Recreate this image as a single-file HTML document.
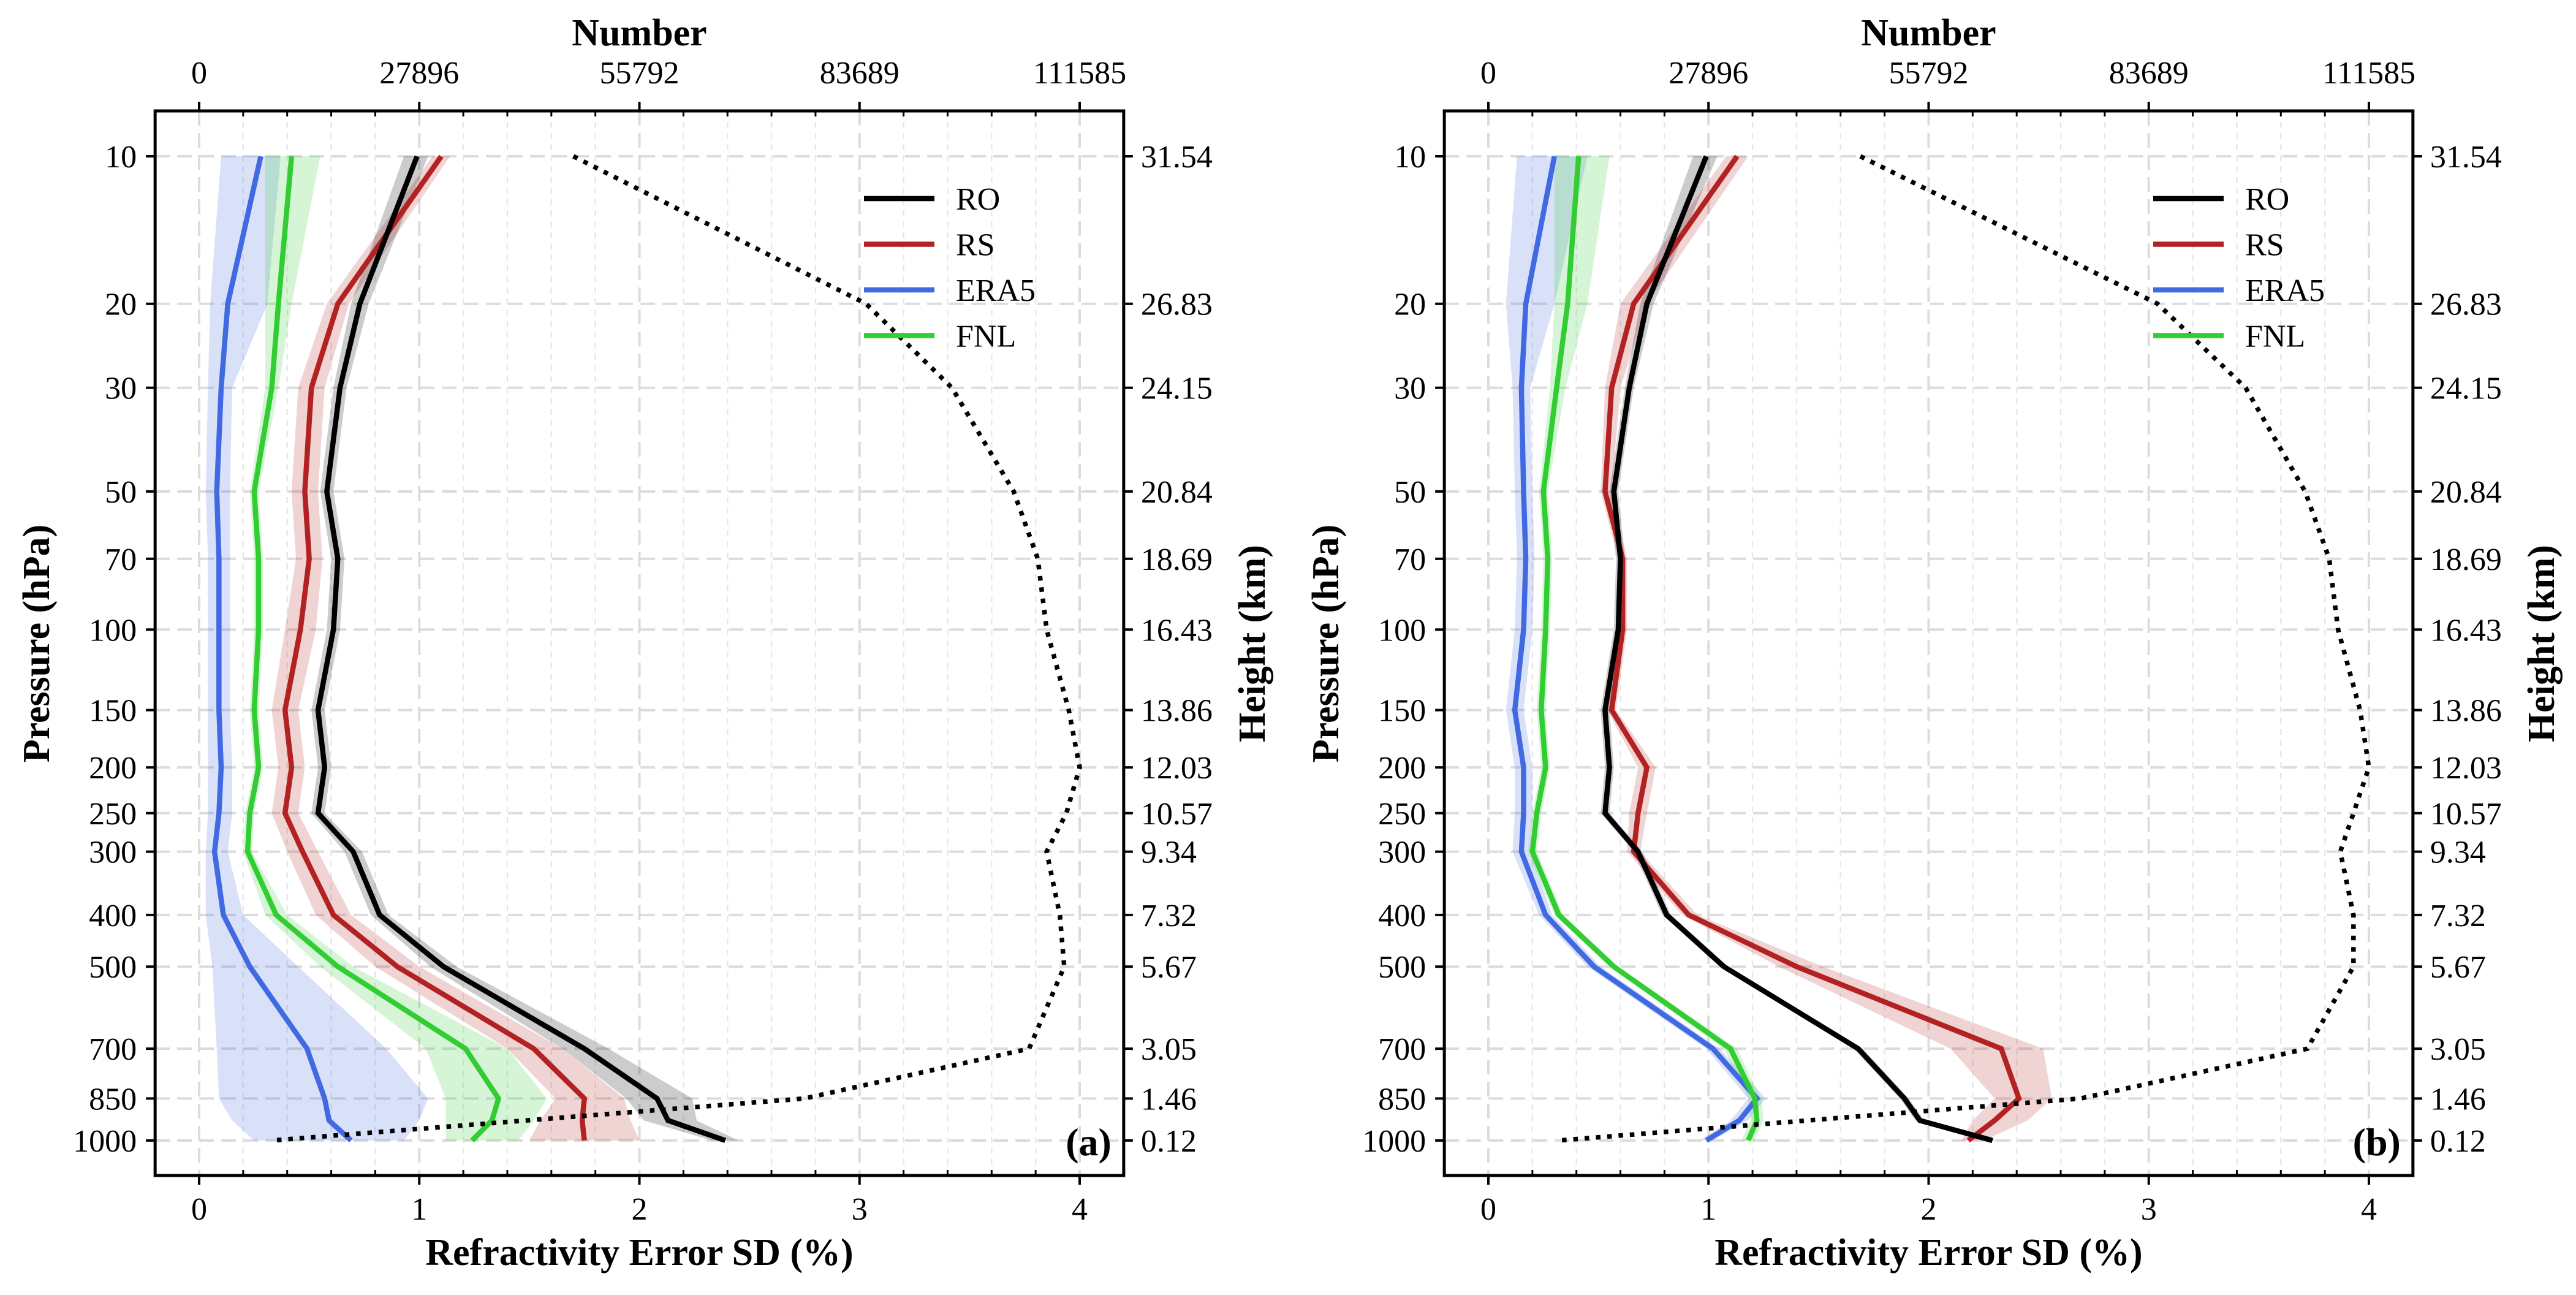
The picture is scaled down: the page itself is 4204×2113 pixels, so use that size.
<!DOCTYPE html>
<html><head><meta charset="utf-8"><style>
html,body{margin:0;padding:0;background:#fff;}
svg{display:block;font-family:"Liberation Serif",serif;}
</style></head><body>
<svg id="chart" width="4204" height="2113" viewBox="0 0 4204 2113" xmlns="http://www.w3.org/2000/svg"></svg>
<script>
const levels=[10,20,30,50,70,100,150,200,250,300,400,500,700,850,925,1000];
const heights=[31.54,26.83,24.15,20.84,18.69,16.43,13.86,12.03,10.57,9.34,7.32,5.67,3.05,1.46,0.76,0.12];
const tickLevels=[10,20,30,50,70,100,150,200,250,300,400,500,700,850,1000];
const tickHeights=["31.54","26.83","24.15","20.84","18.69","16.43","13.86","12.03","10.57","9.34","7.32","5.67","3.05","1.46","0.12"];
const xTicks=[0,1,2,3,4];
const topTickLabels=["0","27896","55792","83689","111585"];
const countMax=111585;

// Panel (a)
const aRO=[0.99,0.73,0.64,0.58,0.63,0.61,0.54,0.57,0.54,0.70,0.82,1.11,1.75,2.08,2.13,2.39];
const aROlo=[0.93,0.69,0.61,0.55,0.60,0.58,0.51,0.54,0.51,0.66,0.78,1.05,1.65,1.94,2.02,2.33];
const aROhi=[1.04,0.77,0.67,0.61,0.66,0.64,0.57,0.60,0.57,0.74,0.86,1.17,1.86,2.24,2.26,2.45];
const aRS=[1.10,0.63,0.51,0.48,0.50,0.46,0.39,0.42,0.39,0.47,0.61,0.90,1.52,1.75,1.74,1.75];
const aRSlo=[1.06,0.58,0.45,0.42,0.44,0.39,0.33,0.36,0.33,0.40,0.53,0.80,1.40,1.62,1.55,1.50];
const aRShi=[1.14,0.68,0.57,0.54,0.56,0.53,0.45,0.48,0.45,0.54,0.69,1.00,1.65,1.93,1.96,2.00];
const aERA=[0.28,0.13,0.10,0.08,0.09,0.09,0.09,0.10,0.09,0.07,0.11,0.23,0.49,0.57,0.59,0.69];
const aERAlo=[0.10,0.05,0.04,0.03,0.04,0.04,0.04,0.04,0.04,0.03,0.03,0.06,0.08,0.09,0.15,0.25];
const aERAhi=[0.37,0.31,0.15,0.14,0.14,0.14,0.14,0.15,0.15,0.13,0.20,0.45,0.85,1.04,1.00,0.93];
const aFNL=[0.42,0.36,0.33,0.25,0.27,0.27,0.25,0.27,0.23,0.22,0.35,0.63,1.21,1.36,1.33,1.24];
const aFNLlo=[0.30,0.30,0.30,0.23,0.25,0.25,0.23,0.25,0.21,0.20,0.30,0.55,1.03,1.12,1.12,1.12];
const aFNLhi=[0.55,0.42,0.36,0.27,0.29,0.29,0.27,0.29,0.25,0.24,0.40,0.70,1.40,1.58,1.52,1.45];
const aCount=[47420,84530,95400,103220,106280,107400,110200,111585,109900,107400,109070,109630,105170,76710,null,9210];

// Panel (b)
const bRO=[0.99,0.72,0.64,0.57,0.60,0.59,0.53,0.55,0.53,0.68,0.81,1.07,1.68,1.89,1.96,2.29];
const bROlo=[0.93,0.69,0.62,0.55,0.58,0.57,0.51,0.53,0.51,0.66,0.79,1.05,1.66,1.87,1.94,2.27];
const bROhi=[1.04,0.75,0.66,0.59,0.62,0.61,0.55,0.57,0.55,0.70,0.83,1.09,1.70,1.91,1.98,2.31];
const bRS=[1.13,0.66,0.56,0.53,0.61,0.61,0.56,0.72,0.68,0.66,0.91,1.40,2.33,2.41,2.30,2.18];
const bRSlo=[1.08,0.60,0.53,0.51,0.59,0.59,0.54,0.68,0.64,0.63,0.88,1.32,2.10,2.30,2.20,2.15];
const bRShi=[1.18,0.72,0.60,0.56,0.63,0.63,0.58,0.76,0.72,0.69,0.95,1.52,2.52,2.56,2.45,2.25];
const bERA=[0.30,0.17,0.15,0.16,0.17,0.16,0.12,0.16,0.16,0.15,0.26,0.48,1.02,1.22,1.14,0.99];
const bERAlo=[0.13,0.08,0.11,0.12,0.13,0.12,0.08,0.12,0.12,0.11,0.23,0.45,0.99,1.18,1.10,0.96];
const bERAhi=[0.45,0.30,0.19,0.20,0.21,0.20,0.16,0.20,0.20,0.19,0.29,0.51,1.05,1.26,1.18,1.02];
const bFNL=[0.41,0.36,0.31,0.25,0.27,0.26,0.24,0.26,0.22,0.20,0.32,0.57,1.10,1.21,1.22,1.18];
const bFNLlo=[0.30,0.30,0.28,0.23,0.25,0.24,0.22,0.24,0.20,0.18,0.30,0.55,1.07,1.18,1.19,1.15];
const bFNLhi=[0.55,0.45,0.35,0.27,0.29,0.28,0.26,0.28,0.24,0.22,0.34,0.59,1.13,1.24,1.25,1.21];
const bCount=[47140,84810,95960,103500,106560,107680,110470,111585,109630,107960,109630,109630,103780,75040,null,8930];

const NS="http://www.w3.org/2000/svg";
const svg=document.getElementById('chart');
function mk(tag,attrs,parent){const e=document.createElementNS(NS,tag);for(const k in attrs)e.setAttribute(k,attrs[k]);(parent||svg).appendChild(e);return e;}
const Y=h=>255+(31.54-h)*51.11;
const C={RO:'#000000',RS:'#b22222',ERA5:'#4169e1',FNL:'#32cd32'};
const FS=52;

function panel(off,tag,sets,counts,letter){
  const X=v=>off+325+v*359.25;
  const g=mk('g',{});
  
  
  const L=X(-0.2),R=X(4.2),T=181,B=1918;
  for(let i=-1;i<=21;i++){const v=i*0.2; if(Math.abs(v-Math.round(v))<1e-6)continue;
    const ln=mk('line',{x1:X(v),x2:X(v),y1:T,y2:B,stroke:'#e8e8e8','stroke-width':2.5,'stroke-dasharray':'10 8'},g);
    }
  xTicks.forEach(v=>{const ln=mk('line',{x1:X(v),x2:X(v),y1:T,y2:B,stroke:'#dcdcdc','stroke-width':4,'stroke-dasharray':'24 12'},g);
    });
  tickLevels.forEach((p,i)=>{const h=heights[levels.indexOf(p)];const ln=mk('line',{x1:L,x2:R,y1:Y(h),y2:Y(h),stroke:'#dcdcdc','stroke-width':4,'stroke-dasharray':'24 12'},g);
    });
  const order=['ERA5','FNL','RS','RO'];
  order.forEach(k=>{const s=sets[k];let d='';
    s.hi.forEach((v,i)=>{d+=(i?'L':'M')+X(v)+','+Y(heights[i]);});
    for(let i=s.lo.length-1;i>=0;i--)d+='L'+X(s.lo[i])+','+Y(heights[i]);
    const p=mk('path',{d:d+'Z',fill:C[k],'fill-opacity':0.2,stroke:'none'},g);
    });
  order.forEach(k=>{const s=sets[k];const pts=s.v.map((v,i)=>X(v)+','+Y(heights[i])).join(' ');
    const p=mk('polyline',{points:pts,fill:'none',stroke:C[k],'stroke-width':8.5,'stroke-linejoin':'miter'},g);
    });
  const cp=[];counts.forEach((c,i)=>{if(c!==null)cp.push(X(c/countMax*4)+','+Y(heights[i]));});
  const cl=mk('polyline',{points:cp.join(' '),fill:'none',stroke:'#000','stroke-width':7.5,'stroke-dasharray':'7.5 11'},g);
  
  const fr=mk('rect',{x:L,y:T,width:R-L,height:B-T,fill:'none',stroke:'#000','stroke-width':5},g);
  
  for(let i=-1;i<=21;i++){const v=i*0.2;if(Math.abs(v-Math.round(v))<1e-6)continue;
    mk('line',{x1:X(v),x2:X(v),y1:B,y2:B-9,stroke:'#000','stroke-width':3},g);
    mk('line',{x1:X(v),x2:X(v),y1:T,y2:T+9,stroke:'#000','stroke-width':3},g);}
  xTicks.forEach((v,i)=>{
    mk('line',{x1:X(v),x2:X(v),y1:B,y2:B+15,stroke:'#000','stroke-width':4},g);
    mk('line',{x1:X(v),x2:X(v),y1:T,y2:T-15,stroke:'#000','stroke-width':4},g);
    const t=mk('text',{x:X(v),y:1990,'font-size':FS,'text-anchor':'middle'},g);t.textContent=v;
    
    const t2=mk('text',{x:X(v),y:136,'font-size':FS,'text-anchor':'middle'},g);t2.textContent=topTickLabels[i];
    });
  tickLevels.forEach((p,i)=>{const y=Y(heights[levels.indexOf(p)]);
    mk('line',{x1:L,x2:L-15,y1:y,y2:y,stroke:'#000','stroke-width':4},g);
    mk('line',{x1:R,x2:R+15,y1:y,y2:y,stroke:'#000','stroke-width':4},g);
    const t=mk('text',{x:L-30,y:y+18,'font-size':FS,'text-anchor':'end'},g);t.textContent=p;
    
    const t2=mk('text',{x:R+28,y:y+18,'font-size':FS,'text-anchor':'start'},g);t2.textContent=tickHeights[i];
    });
  const tt=mk('text',{x:X(2),y:74,'font-size':62,'font-weight':'bold','text-anchor':'middle'},g);tt.textContent='Number';
  
  const bt=mk('text',{x:X(2),y:2064,'font-size':62,'font-weight':'bold','text-anchor':'middle'},g);bt.textContent='Refractivity Error SD (%)';
  
  const lt=mk('text',{x:0,y:0,'font-size':62,'font-weight':'bold','text-anchor':'middle',transform:`translate(${off+80},1050) rotate(-90)`},g);lt.textContent='Pressure (hPa)';
  
  const rt=mk('text',{x:0,y:0,'font-size':62,'font-weight':'bold','text-anchor':'middle',transform:`translate(${off+2064},1050) rotate(-90)`},g);rt.textContent='Height (km)';
  
  const pl=mk('text',{x:R-20,y:1885,'font-size':64,'font-weight':'bold','text-anchor':'end'},g);pl.textContent=letter;
  
  ['RO','RS','ERA5','FNL'].forEach((k,i)=>{const y=324+i*74.5;
    const e=mk('g',{},g);
    mk('line',{x1:off+1410,x2:off+1525,y1:y,y2:y,stroke:C[k],'stroke-width':8.5},e);
    const t=mk('text',{x:off+1560,y:y+18,'font-size':FS},e);t.textContent=k;});
}
panel(0,'a',{RO:{v:aRO,lo:aROlo,hi:aROhi},RS:{v:aRS,lo:aRSlo,hi:aRShi},ERA5:{v:aERA,lo:aERAlo,hi:aERAhi},FNL:{v:aFNL,lo:aFNLlo,hi:aFNLhi}},aCount,'(a)');
panel(2104,'b',{RO:{v:bRO,lo:bROlo,hi:bROhi},RS:{v:bRS,lo:bRSlo,hi:bRShi},ERA5:{v:bERA,lo:bERAlo,hi:bERAhi},FNL:{v:bFNL,lo:bFNLlo,hi:bFNLhi}},bCount,'(b)');
</script>
</body></html>
